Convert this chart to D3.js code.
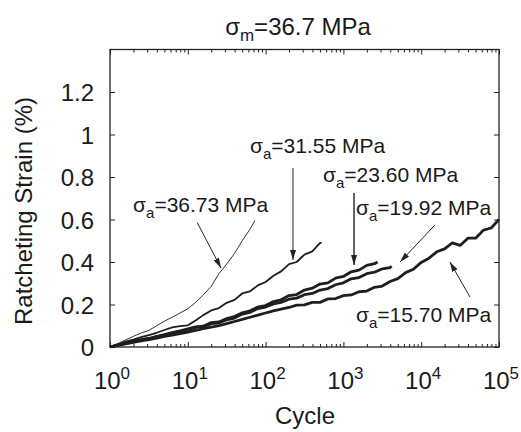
<!DOCTYPE html>
<html>
<head>
<meta charset="utf-8">
<script src="https://cdn.jsdelivr.net/npm/d3@7"></script>
<style>
  body { margin: 0; background: #fff; }
  text { font-family: "Liberation Sans", Arial, sans-serif; fill: #1a1a1a; }
</style>
</head>
<body>
<script>
// tick values
var yTicks = [0, 0.2, 0.4, 0.6, 0.8, 1, 1.2];
var xTicks = [1, 10, 100, 1000, 10000, 100000];
var xTickExp = ["0", "1", "2", "3", "4", "5"];

// series (cycles, ratcheting strain %)
var seriesNames = ["36.73", "31.55", "23.60", "19.92", "15.70"];

var cycles3673 = [1, 1.26, 1.58, 2, 2.51, 3.16, 3.98, 5.01, 6.31, 7.94, 10, 12.6, 15.8, 20, 25.1, 31.6, 39.8, 50.1, 63.1, 73];
var strain3673 = [0, .016, .033, .05, .066, .078, .1, .122, .14, .16, .18, .21, .245, .285, .345, .39, .44, .5, .555, .595];

var cycles3155 = [1, 1.26, 1.58, 2, 2.51, 3.16, 3.98, 5.01, 6.31, 7.94, 10, 12.6, 15.8, 20, 25.1, 31.6, 39.8, 50.1, 63.1, 79.4,
  100, 126, 158, 200, 251, 316, 398, 501, 525];
var strain3155 = [0, .012, .025, .035, .046, .056, .067, .08, .092, .098, .102, .125, .15, .172, .183, .208, .222, .252, .262, .29,
  .306, .335, .356, .39, .4, .435, .45, .49, .49];

var cycles2360 = [1, 1.26, 1.58, 2, 2.51, 3.16, 3.98, 5.01, 6.31, 7.94, 10, 12.6, 15.8, 20, 25.1, 31.6, 39.8, 50.1, 63.1, 79.4,
  100, 126, 158, 200, 251, 316, 398, 501, 631, 794, 1000, 1259, 1585, 1995, 2512, 2750];
var strain2360 = [0, .01, .018, .026, .035, .04, .05, .058, .068, .076, .085, .095, .098, .115, .118, .134, .143, .161, .17, .188,
  .195, .214, .222, .242, .247, .268, .277, .296, .302, .324, .332, .354, .362, .384, .392, .4];

var cycles1992 = [1, 1.26, 1.58, 2, 2.51, 3.16, 3.98, 5.01, 6.31, 7.94, 10, 12.6, 15.8, 20, 25.1, 31.6, 39.8, 50.1, 63.1, 79.4,
  100, 126, 158, 200, 251, 316, 398, 501, 631, 794, 1000, 1259, 1585, 1995, 2512, 3162, 3981, 4170];
var strain1992 = [0, .009, .017, .025, .033, .04, .048, .056, .065, .072, .08, .092, .096, .11, .113, .128, .136, .155, .163, .181,
  .188, .203, .21, .225, .23, .246, .252, .268, .275, .293, .302, .321, .327, .345, .352, .368, .374, .38];

var cycles1570 = [1, 1.26, 1.58, 2, 2.51, 3.16, 3.98, 5.01, 6.31, 7.94, 10, 12.6, 15.8, 20, 25.1, 31.6, 39.8, 50.1, 63.1, 79.4,
  100, 126, 158, 200, 251, 316, 398, 501, 631, 794, 1000, 1259, 1585, 1995, 2512, 3162, 3981, 5012, 6310, 7943,
  10000, 12589, 15849, 19953, 25119, 31623, 39811, 50119, 63096, 79433, 100000];
var strain1570 = [0, .008, .015, .022, .029, .035, .042, .05, .056, .063, .07, .078, .086, .093, .1, .11, .12, .13, .14, .15,
  .16, .17, .178, .186, .197, .198, .21, .21, .226, .228, .242, .245, .26, .263, .281, .287, .308, .322, .35, .366,
  .398, .418, .448, .462, .49, .478, .512, .512, .55, .56, .6];

var allCycles = [cycles3673, cycles3155, cycles2360, cycles1992, cycles1570];
var allStrain = [strain3673, strain3155, strain2360, strain1992, strain1570];
var lineWidth = [1, 1.8, 2.8, 2.8, 2.8];

// annotation text anchor (cycle, strain) and arrow from -> to (cycle, strain)
var labelAt = [[1.98, .635], [63, .915], [547, .776], [1450, .621], [1450, .118]];
var arrowFrom = [[13.2, .586], [225, .842], [1370, .725], [15000, .574], [42400, .235]];
var arrowTo = [[26.7, .372], [225, .41], [1370, .386], [5350, .4], [23400, .4]];

var width = 521, height = 432;
var plotLeft = 110, plotRight = 499, plotTop = 49.5, plotBottom = 347;

var x = d3.scaleLog().domain([1, 100000]).range([plotLeft, plotRight]);
var y = d3.scaleLinear().domain([0, 1.4]).range([plotBottom, plotTop]);

var svg = d3.select("body").append("svg")
    .attr("width", width)
    .attr("height", height);

svg.append("defs").append("marker")
    .attr("id", "arrow")
    .attr("viewBox", "0 0 10 6")
    .attr("refX", 10).attr("refY", 3)
    .attr("markerWidth", 10).attr("markerHeight", 6)
    .attr("markerUnits", "userSpaceOnUse")
    .attr("orient", "auto")
    .append("path")
    .attr("d", "M0,0 L10,3 L0,6 Z")
    .attr("fill", "#222");

// curves
var line = d3.line()
    .x(function(d) { return x(d[0]); })
    .y(function(d) { return y(d[1]); });

allCycles.forEach(function(c, i) {
    var pts = c.map(function(n, j) { return [n, allStrain[i][j]]; });
    svg.append("path")
        .attr("d", line(pts))
        .attr("fill", "none")
        .attr("stroke", i == 0 ? "#333" : "#1e1e1e")
        .attr("stroke-width", lineWidth[i])
        .attr("stroke-linejoin", "round");
});

// axes (ticks point inward)
var minor = x.ticks().filter(function(d) { return xTicks.indexOf(d) < 0; });

svg.append("g")
    .attr("transform", "translate(0," + plotBottom + ")")
    .call(d3.axisBottom(x).tickValues(xTicks).tickSize(-5).tickSizeOuter(0).tickFormat(""));
svg.append("g")
    .attr("transform", "translate(0," + plotBottom + ")")
    .call(d3.axisBottom(x).tickValues(minor).tickSize(-3).tickSizeOuter(0).tickFormat(""));
svg.append("g")
    .attr("transform", "translate(0," + plotTop + ")")
    .call(d3.axisTop(x).tickValues(xTicks).tickSize(-5).tickSizeOuter(0).tickFormat(""));
svg.append("g")
    .attr("transform", "translate(0," + plotTop + ")")
    .call(d3.axisTop(x).tickValues(minor).tickSize(-3).tickSizeOuter(0).tickFormat(""));

svg.append("g")
    .attr("class", "y axis")
    .attr("transform", "translate(" + plotLeft + ",0)")
    .call(d3.axisLeft(y).tickValues(yTicks).tickSize(-5).tickSizeOuter(0).tickPadding(16)
        .tickFormat(function(d) { return String(d); }))
    .call(function(g) { g.selectAll("text").style("font-size", "24px").attr("dy", "0.36em"); });
svg.append("g")
    .attr("transform", "translate(" + plotRight + ",0)")
    .call(d3.axisRight(y).tickValues(yTicks).tickSize(-5).tickSizeOuter(0).tickFormat(""));

svg.selectAll(".domain").remove();
svg.selectAll(".tick line").attr("stroke", "#222").attr("stroke-width", 1);

svg.append("rect")
    .attr("x", plotLeft).attr("y", plotTop)
    .attr("width", plotRight - plotLeft).attr("height", plotBottom - plotTop)
    .attr("fill", "none").attr("stroke", "#222").attr("stroke-width", 1.3);

// x tick labels 10^n
xTicks.forEach(function(t, i) {
    var tx = svg.append("text")
        .attr("x", x(t) + 2)
        .attr("y", 389)
        .attr("text-anchor", "middle")
        .style("font-size", "24px");
    tx.append("tspan").text("10");
    tx.append("tspan").attr("dy", -10).style("font-size", "17px").text(xTickExp[i]);
});

// titles
var title = svg.append("text")
    .attr("x", 298).attr("y", 35)
    .attr("text-anchor", "middle")
    .style("font-size", "24px");
title.append("tspan").text("σ");
title.append("tspan").attr("dy", 6).style("font-size", "17px").text("m");
title.append("tspan").attr("dy", -6).text("=36.7 MPa");

svg.append("text")
    .attr("x", 305).attr("y", 424)
    .attr("text-anchor", "middle")
    .style("font-size", "24px")
    .text("Cycle");

svg.append("text")
    .attr("transform", "translate(32,211) rotate(-90)")
    .attr("text-anchor", "middle")
    .style("font-size", "24px")
    .text("Ratcheting Strain (%)");

// annotations
seriesNames.forEach(function(s, i) {
    var t = svg.append("text")
        .attr("x", x(labelAt[i][0]))
        .attr("y", y(labelAt[i][1]))
        .style("font-size", "21px");
    t.append("tspan").text("σ");
    t.append("tspan").attr("dy", 6).style("font-size", "15px").text("a");
    t.append("tspan").attr("dy", -6).text("=" + s + " MPa");

    svg.append("line")
        .attr("x1", x(arrowFrom[i][0])).attr("y1", y(arrowFrom[i][1]))
        .attr("x2", x(arrowTo[i][0])).attr("y2", y(arrowTo[i][1]))
        .attr("stroke", "#222")
        .attr("stroke-width", i == 2 ? 1.4 : 1)
        .attr("marker-end", "url(#arrow)");
});
</script>
</body>
</html>
